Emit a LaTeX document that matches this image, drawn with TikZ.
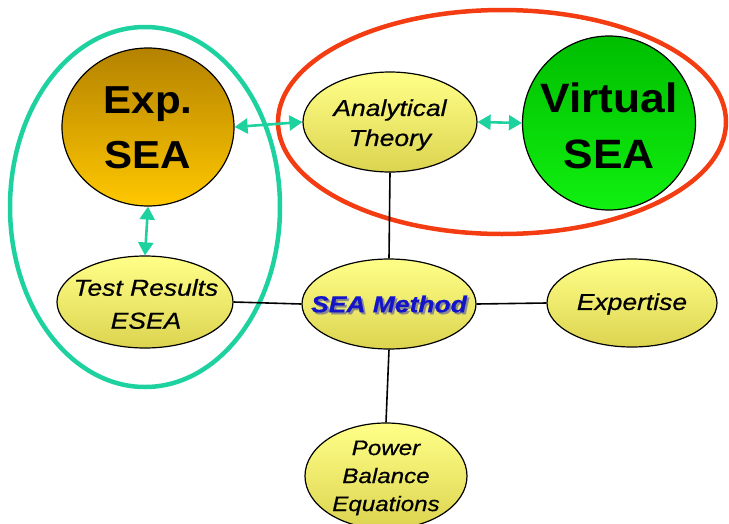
\documentclass[tikz,border=0pt]{standalone}
\usepackage{fontspec}
\setmainfont{Liberation Sans}
\newfontfamily\widesans[FakeStretch=1.15,FakeBold=0.6]{Liberation Sans}
\newfontfamily\bigsans[FakeStretch=1.08]{Liberation Sans}
\usetikzlibrary{shapes.geometric,arrows.meta}
\definecolor{linkteal}{HTML}{1ED2A0}
\definecolor{ringred}{HTML}{F33C12}
\definecolor{paletop}{HTML}{FFFF88}
\definecolor{palebot}{HTML}{DCD450}
\definecolor{goldtop}{HTML}{B48200}
\definecolor{goldbot}{HTML}{FFC800}
\definecolor{greentop}{HTML}{00BE00}
\definecolor{greenbot}{HTML}{10F010}
\definecolor{methodblue}{HTML}{1414C8}
\tikzset{
  topic/.style={ellipse, draw=black, line width=1.2pt, inner sep=0pt,
    top color=paletop, bottom color=palebot},
  bigtopic/.style={ellipse, draw=black, line width=1.2pt, inner sep=0pt},
  biglabel/.style={align=center, font=\bigsans\fontsize{39}{55}\selectfont\bfseries},
  label/.style={align=center, inner sep=0pt, font=\widesans\fontsize{23}{30}\selectfont\itshape},
  link/.style={linkteal, line width=2.6pt,
    {Triangle[length=13pt,width=15pt]}-{Triangle[length=13pt,width=15pt]}},
  tie/.style={black, line width=1.6pt},
  ring/.style={line width=4.5pt}
}
\begin{document}
\begin{tikzpicture}[x=1pt,y=-1pt]
\useasboundingbox (0,0) rectangle (729,523);

% grouping rings
\draw[ring, linkteal] (145,207) ellipse [x radius=135, y radius=180];
\draw[ring, ringred] (502,122) ellipse [x radius=224, y radius=112];

% topic shapes
\node[bigtopic, top color=goldtop, bottom color=goldbot,
  minimum width=172pt, minimum height=158pt] (exp) at (148,127) {};
\node[bigtopic, top color=greentop, bottom color=greenbot,
  minimum width=173pt, minimum height=174pt] (virt) at (609,123) {};
\node[topic, minimum width=174pt, minimum height=100pt] (anal) at (390,122) {};
\node[topic, minimum width=174pt, minimum height=90pt] (meth) at (389,304) {};
\node[topic, minimum width=170pt, minimum height=88pt] (expt) at (632,303) {};
\node[topic, minimum width=176pt, minimum height=92pt] (test) at (145,302) {};
\node[topic, minimum width=162pt, minimum height=106pt] (power) at (386,476) {};

% topic labels
\node[biglabel] (explabel) at (148,128) {Exp.\\SEA};
\node[biglabel, font=\bigsans\fontsize{41}{56}\selectfont\bfseries] (virtlabel) at (609,126) {Virtual\\SEA};
\node[label] (anallabel) at (390,125) {Analytical\\Theory};
\node[label] (exptlabel) at (632,304) {Expertise};
\node[label, font=\widesans\fontsize{23}{33}\selectfont\itshape] (testlabel) at (146,304) {Test Results\\ESEA};
\node[label, font=\widesans\fontsize{21}{28}\selectfont\itshape] (powerlabel) at (386,478) {Power\\Balance\\Equations};

% method label with drop shadow
\node[text=black!45, font=\widesans\fontsize{23}{28}\selectfont\bfseries\itshape] (methshadow)
  at ([shift={(2,2)}]meth.center) {SEA Method};
\node[text=methodblue, font=\widesans\fontsize{23}{28}\selectfont\bfseries\itshape] (methlabel)
  at (meth.center) {SEA Method};

% plain connections
\draw[tie] (anal.south) -- (meth.north);
\draw[tie] (meth.south) -- (power.north);
\draw[tie] (test.east) -- (meth.west);
\draw[tie] (meth.east) -- (expt.west);

% two-way links
\draw[link] (exp.east) -- (anal.west);
\draw[link] (anal.east) -- (virt.west);
\draw[link] (exp.south) -- (test.north);
\end{tikzpicture}
\end{document}
